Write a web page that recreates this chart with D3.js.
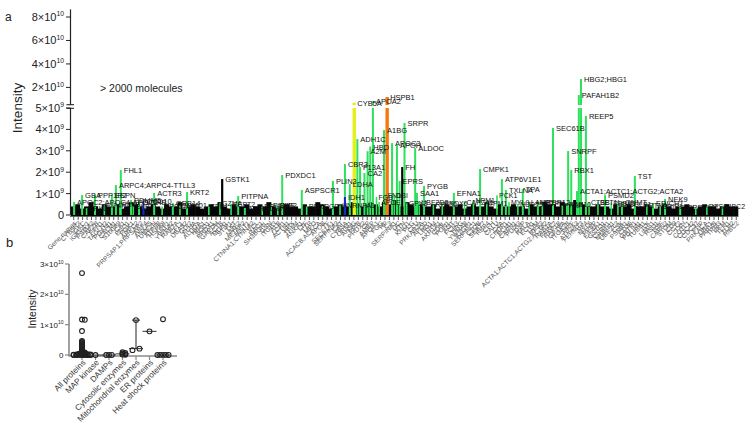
<!DOCTYPE html>
<html><head><meta charset="utf-8">
<script src="https://cdn.jsdelivr.net/npm/d3@7"></script>
<style>body{margin:0;background:#fff} svg{display:block;font-family:"Liberation Sans",Arial,sans-serif}</style>
</head><body><svg id="c" width="748" height="427"></svg>
<script>
// ---------- Panel a data ----------
const categories = ["Gene names","CYB5R3","IGKC","IGKV4-1","PSMA2","CAPZB","PFN1","TAGLN2","PGAM1","CALM1",
"S100A9","CA1","ENO1","PGK1","ARPC2","PRPSAP1;PRPSAP2","ARF4","ANXA5","UBE2N","ATP5B",
"HSPA8","ARF1","YWHAZ","RAB7A","CFL1","UBA52","GDI2","FLNA","ALDOA","HBA1",
"SOD1","PRDX1","GAPDH","ACTB","MDH1","STIP1","TKT","NME2","METAP2","HINT1",
"CTNNA1;CTNNA2","VCL","RAC1","SH3BGRL","GSN","ITGB3","ALB","LCP1","ACTN1","HPX",
"TPM4","ANXA1","LTF","TTR","MPO","ACACB;ACACA","APOB","TF","SEC61A1","SERPINA3",
"CAT","CYB5A","ORM1","AHSG","PPIB","PRDX2","CP","AMBP","APOA1","FGG",
"HP","C3","SERPINA1","GC","VTN","KNG1","PLG","CLU","PRKAR2A","APOD",
"LRG1","ITIH4","AKR1A1","CD5L","PON1","AGT","FCN3","HRG","YWHAB","AZGP1",
"SERPINC1","C1QB","SEPT7","RBP4","CFH","CALU","C4A","CNDP1","ECM1","CAPN1",
"PDIA3","DSP","RALA","ECH1","LUM","RPS3","ACTA1;ACTC1;ACTG2;ACTA2","RAB1A","PARK7","RAP1B",
"GP1BA","ITGA2B","PPIF","ATP2A3","FERMT3","PF4","MYL6","PPBP","EIF4A1","GSTO1",
"CSRP1","MMRN1","UBE2L3","CSK","PSMB1","CD36","GSTP1","PDLIM1","TUBB1","ILK",
"LIMS1","RSU1","NSF","CAPN2","STOM","CD9","CCT2","TXN","COTL1","CDC42",
"CDC37","PNP","PRKACA","UBA1","PARVB","TPM3","PKM","TLN1","TLN2","RIBC2"];
// background intensity of each ranked protein (x1e8)
const background = [4,5,3,4,6,4,3,5,4,4, 5,3,4,6,5,4,3,4,5,4, 3,5,4,4,6,3,4,5,4,3,
 4,5,4,6,4,3,5,4,4,5, 3,4,5,4,6,4,3,4,5,4, 4,3,5,4,4,6,5,4,3,4,
 5,4,4,6,5,4,5,6,5,4, 6,5,7,5,4,6,5,4,5,4, 4,5,3,4,5,4,4,5,3,4,
 5,4,4,6,4,3,5,4,4,5, 4,4,3,5,4,4,6,5,5,4, 6,5,5,7,6,5,4,4,5,4,
 4,3,5,4,4,5,3,4,4,5, 4,3,4,5,4,3,4,4,5,4, 3,4,5,4,4,3,4,5,4,4];
// highlighted proteins: rank position, intensity (x1e9), colour group
const hlGenes  = ["APOC2;APOC4-APOC2","GBA","PPP1R2","ESPN","ARPC4;ARPC4-TTLL3","FHL1","PDLIM5","PDCD10","LDHB","ACTR3",
 "GRB14","KRT2","GSTK1","PITPNA","ARHGDIB","PDXDC1","ASPSCR1","PLIN3","CBR3","IDH1",
 "LDHA","ADH1C","CYB5A","F13A1","CA2","A2M","HBD","APOA2","A1BG","HSPB1",
 "APOC3","APOH","EPRS","FH","SRPR","ALDOC","SAA1","PYGB","EFNA1","CMPK1",
 "ATP6V1E1","TXLNA","TPA","HRSP12","SEC61B","SNRPF","RBX1","ACTA1;ACTC1;ACTG2;ACTA2","PAFAH1B2","HBG2;HBG1",
 "REEP5","PSMD2","GNMT","TST","ERICH1","NEK9","LPP"];
const hlPos    = [0.2,2.0,4.9,8.7,9.6,10.7,13.0,14.8,15.8,18.2,
 22.4,25.6,33.5,37.1,38.6,47.0,51.4,58.4,61.1,61.1,
 62.2,63.9,63.2,64.5,65.5,66.2,66.8,67.4,69.9,70.6,
 71.7,72.8,73.4,74.0,74.5,76.9,77.3,78.9,85.6,91.5,
 96.4,97.3,101.1,104.5,107.9,111.3,112.0,113.3,113.7,114.2,
 115.3,119.6,123.4,126.3,130.4,133.1,136.5];
const hlValues = [0.61,0.93,0.95,0.95,1.40,2.10,0.70,0.65,0.60,1.03,
 0.56,1.07,1.68,0.89,0.33,1.87,1.17,1.59,2.38,0.84,
 1.45,3.55,7.0,2.24,1.96,2.98,3.20,8.4,3.97,11.8,
 3.36,3.27,1.59,2.24,4.30,3.13,1.03,1.36,1.03,2.15,
 1.68,1.17,1.21,0.61,4.07,2.99,2.10,1.12,13.5,27.2,
 4.63,0.93,0.61,1.82,0.56,0.75,0.37];
const hlColors = ["g","g","g","g","g","g","g","g","b","g",
 "g","g","k","g","g","g","g","g","g","b",
 "g","g","y","g","g","g","g","g","g","o",
 "g","g","g","k","g","g","g","g","g","g",
 "g","g","g","g","g","g","g","g","g","g",
 "g","g","g","g","g","g","g"];
// minor labelled proteins inside the dense band
const minorGenes  = ["CRKL","EIF4H","FLNB","CKB","RPS27A","SUMO1","TPP1","GZMA","SEPT2","RPL7A","PSMB2","SMS","RDX","PGD",
 "HNRNPA1","FGB","APOE","FN1","DBI","GPX3","UBE2D3","RPL30","PRDX6","CAPZA1","NPM1","TPM1","PCK1","MYL9",
 "NUDT5","LAMP1","MTPN","PFKP","RAB10","CTSB","BET1L","PEBP1","SH3GLB1","RTN4","CRIP1","RPL11","RPS9","RIBC2"];
const minorPos    = [3,7,10.5,13.5,20,24,30.5,33,35.5,42.5,44.5,46,52.5,56,
 60,68.2,68.8,70.3,72.2,75,77.8,81,83,88,90,93,95.3,98,
 100,102.5,105.5,110,111,116,118,121,122.5,129,132,140,142.5,146];
const minorValues = [0.32,0.45,0.50,0.42,0.40,0.45,0.40,0.55,0.52,0.40,0.45,0.48,0.40,0.42,
 0.45,0.85,0.60,0.95,0.93,0.55,0.62,0.50,0.55,0.62,0.70,0.58,0.92,0.60,
 0.52,0.62,0.55,0.45,0.52,0.60,0.62,0.58,0.50,0.45,0.42,0.38,0.42,0.40];
const lowTicks  = [0,1,2,3,4,5];    // x1e9
const highTicks = [20,40,60,80];    // x1e9

// ---------- Panel b data ----------
const groups = ["All proteins","MAP kinase","DAMPs","Cytosolic enzymes","Mitochondrial enzymes","ER proteins","Heat shock proteins"];
const allProteins = [27,11.7,11.6,7.9,4.6,4.3,4.0,3.7,3.4,3.1,2.8,2.5,2.2,1.9,1.6,1.3,1.0,0.8,0.6,0.5,
 0.4,0.35,0.3,0.25,0.2,0.18,0.15,0.12,0.1,0.08,0.06,0.05,0.04,0.03,0.02,0.01,0.01,0.0,0.0,0.0];
const mapKinase = [0.0];
const damps = [0.02,0.01,0.0];
const cytosolic = [0.9,0.7,0.45,0.3,0.15,0.05];
const mitochondrial = [11.5,2.1,1.6];
const erProteins = [7.8];
const heatShock = [11.8,0.05,0.04,0.03,0.02,0.0];
const groupMedians = [0.3,0.0,0.01,0.37,2.1,7.8,0.03];
const groupRangeLow  = [null,null,null,null,2.0,null,null];
const groupRangeHigh = [null,null,null,null,11.5,null,null];
const bTicks = [0,10,20,30];  // x1e9

// ---------- drawing ----------
const svg = d3.select("#c");
const GREEN="#2ee05c", col={g:GREEN,b:"#1424d8",k:"#000",y:"#e4f01c",o:"#f7780f"};

const x = d3.scaleLinear().domain([0,categories.length]).range([71,738]);
const step = x(1)-x(0);
const yLow = d3.scaleLinear().domain([0,5]).range([215,108]);
const yHigh = d3.scaleLinear().domain([5,80]).range([105,17]);
const yTop = v => v<=5 ? yLow(v) : yHigh(v);

const gA = svg.append("g");
gA.selectAll("rect.bg").data(background).join("rect")
  .attr("x",(d,i)=>x(i)-0.3).attr("width",step+0.6)
  .attr("y",d=>yLow(d/10)).attr("height",d=>yLow(0)-yLow(d/10)+1)
  .attr("fill","#050505");

function drawBar(g,p,v,c,w){
  const cx=x(p+0.5);
  const lv=Math.min(v,5);
  g.append("rect").attr("x",cx-w/2).attr("width",w).attr("y",yLow(lv)).attr("height",yLow(0)-yLow(lv)).attr("fill",c);
  if(v>5){
    g.append("rect").attr("x",cx-w/2).attr("width",w).attr("y",yHigh(v)).attr("height",yHigh(5)-yHigh(v)).attr("fill",c);
  }
}
minorGenes.forEach((n,i)=>drawBar(gA,minorPos[i],minorValues[i],GREEN,1.6));
hlGenes.forEach((n,i)=>{
  const c=hlColors[i];
  drawBar(gA,hlPos[i],hlValues[i],col[c],(c==="y"||c==="o")?3.4:(c==="k"?2.2:2));
});
minorGenes.forEach((n,i)=>{
  gA.append("text").attr("x",x(minorPos[i]+0.5)+2).attr("y",yTop(minorValues[i])+3)
    .attr("font-size",7).attr("fill","#111").text(n);
});
hlGenes.forEach((n,i)=>{
  gA.append("text").attr("x",x(hlPos[i]+0.5)+3).attr("y",yTop(hlValues[i])+3)
    .attr("font-size",7.5).attr("fill","#111").text(n);
});

// y axis panel a
const axA = gA.append("g");
axA.append("line").attr("x1",70.5).attr("x2",70.5).attr("y1",yHigh(86.5)).attr("y2",yHigh(5)).attr("stroke","#222").attr("stroke-width",1.2);
axA.append("line").attr("x1",70.5).attr("x2",70.5).attr("y1",yLow(5)).attr("y2",yLow(0)).attr("stroke","#222").attr("stroke-width",1.2);
[yHigh(5)-0.3,yLow(5)+0.3].forEach(yy=>axA.append("line").attr("x1",66.5).attr("x2",74).attr("y1",yy).attr("y2",yy).attr("stroke","#222").attr("stroke-width",1.1));
function yLabel(g,yy,m,e,fs){
  const t=g.append("text").attr("x",64).attr("y",yy+fs*0.36).attr("text-anchor","end").attr("font-size",fs).attr("fill","#222");
  if(m===0){t.text("0");return;}
  t.append("tspan").text(m+"×10");
  t.append("tspan").attr("font-size",fs*0.62).attr("dy",-fs*0.42).text(e);
}
lowTicks.forEach(v=>{
  const yy=yLow(v);
  axA.append("line").attr("x1",66).attr("x2",70.5).attr("y1",yy).attr("y2",yy).attr("stroke","#222");
  yLabel(axA,yy,v,"9",11);
});
highTicks.forEach(v=>{
  const yy=yHigh(v);
  axA.append("line").attr("x1",66).attr("x2",70.5).attr("y1",yy).attr("y2",yy).attr("stroke","#222");
  yLabel(axA,yy,v/10,"10",11);
});
gA.append("line").attr("x1",70).attr("x2",738.5).attr("y1",216.5).attr("y2",216.5).attr("stroke","#666").attr("stroke-width",1);
const xAxisA = gA.append("g").attr("transform","translate(0,216)")
  .call(d3.axisBottom(x).tickValues(d3.range(categories.length).map(i=>i+0.5)).tickSize(4).tickFormat(""));
xAxisA.select(".domain").remove();
xAxisA.selectAll("line").attr("stroke","#555");
gA.selectAll("text.xl").data(categories).join("text").attr("class","xl")
  .attr("transform",(d,i)=>`translate(${x(i+0.5)+2},222) rotate(-45)`)
  .attr("text-anchor","end").attr("dy","0.35em").attr("font-size",6.6).attr("fill","#555").text(d=>d);

svg.append("text").attr("x",17).attr("y",108).attr("transform","rotate(-90,17,108)").attr("text-anchor","middle")
  .attr("dy","0.35em").attr("font-size",13.5).attr("fill","#222").text("Intensity");
svg.append("text").attr("x",5).attr("y",21).attr("font-size",12).attr("fill","#222").text("a");
svg.append("text").attr("x",100).attr("y",92).attr("font-size",10.5).attr("fill","#222").text("> 2000 molecules");

// ---------- Panel b ----------
svg.append("text").attr("x",6).attr("y",247).attr("font-size",13).attr("fill","#222").text("b");
const gB = svg.append("g");
const xB = d3.scalePoint().domain(groups).range([82,163]);
const yB = d3.scaleLinear().domain([0,30]).range([355,264]);
const AX="#8a8a8a";
gB.append("line").attr("x1",69).attr("x2",69).attr("y1",yB(30)).attr("y2",yB(0)+1).attr("stroke",AX).attr("stroke-width",1.6);
gB.append("line").attr("x1",68.5).attr("x2",177).attr("y1",yB(0)+1).attr("y2",yB(0)+1).attr("stroke",AX).attr("stroke-width",1.6);
bTicks.forEach(v=>{
  const yy=yB(v);
  gB.append("line").attr("x1",65).attr("x2",69).attr("y1",yy).attr("y2",yy).attr("stroke",AX).attr("stroke-width",1.2);
  const t=gB.append("text").attr("x",63.5).attr("y",yy+3).attr("text-anchor","end").attr("font-size",8).attr("fill","#222");
  if(v===0) t.text("0"); else { t.append("tspan").text((v/10)+"×10"); t.append("tspan").attr("font-size",5).attr("dy",-3.5).text("10"); }
});
groups.forEach(gn=>{
  const xx=xB(gn);
  gB.append("line").attr("x1",xx).attr("x2",xx).attr("y1",yB(0)+1).attr("y2",yB(0)+5).attr("stroke",AX).attr("stroke-width",1.2);
  gB.append("text").attr("transform",`translate(${xx+2},361) rotate(-45)`).attr("text-anchor","end").attr("dy","0.35em")
    .attr("font-size",8.2).attr("fill","#333").text(gn);
});
svg.append("text").attr("x",32).attr("y",309).attr("transform","rotate(-90,32,309)").attr("text-anchor","middle")
  .attr("dy","0.35em").attr("font-size",10.5).attr("fill","#222").text("Intensity");

const groupData=[allProteins,mapKinase,damps,cytosolic,mitochondrial,erProteins,heatShock];
// simple deterministic swarm: spread only points that nearly coincide
function swarm(vals,cx){
  const placed=[];
  const pts=vals.map(v=>({v,y:yB(v)})).sort((a,b)=>b.v-a.v);
  const offs=[0,2.8,-2.8,5.6,-5.6,8.4,-8.4];
  pts.forEach(p=>{
    let chosen=null;
    for(const o of offs){
      const hit=placed.some(q=>Math.abs(q.x-(cx+o))<2 && Math.abs(q.y-p.y)<0.7);
      if(!hit){chosen=o;break;}
    }
    if(chosen===null){
      let bestD=-1;
      for(const o of offs){
        let md=1e9; placed.forEach(q=>{md=Math.min(md,Math.hypot(q.x-(cx+o),q.y-p.y));});
        if(md>bestD){bestD=md;chosen=o;}
      }
    }
    p.x=cx+chosen; placed.push(p);
  });
  return placed;
}
groups.forEach((gn,i)=>{
  const cx=xB(gn);
  if(groupRangeLow[i]!==null){
    gB.append("line").attr("x1",cx).attr("x2",cx).attr("y1",yB(groupRangeLow[i])).attr("y2",yB(groupRangeHigh[i])).attr("stroke","#222").attr("stroke-width",1);
    gB.append("line").attr("x1",cx-4).attr("x2",cx+4).attr("y1",yB(groupRangeHigh[i])).attr("y2",yB(groupRangeHigh[i])).attr("stroke","#222").attr("stroke-width",1);
  }
  gB.append("line").attr("x1",cx-7).attr("x2",cx+7).attr("y1",yB(groupMedians[i])).attr("y2",yB(groupMedians[i])).attr("stroke","#333").attr("stroke-width",1);
  let pts;
  if(gn==="Mitochondrial enzymes"){
    const offs=[0,3.5,-3.5];
    pts=mitochondrial.map((v,k)=>({v,y:yB(v),x:cx+offs[k]}));
  } else pts=swarm(groupData[i],cx);
  gB.selectAll(null).data(pts).join("circle").attr("cx",d=>d.x).attr("cy",d=>d.y).attr("r",2.4)
    .attr("fill","none").attr("stroke","#222").attr("stroke-width",1.1);
});
</script></body></html>
